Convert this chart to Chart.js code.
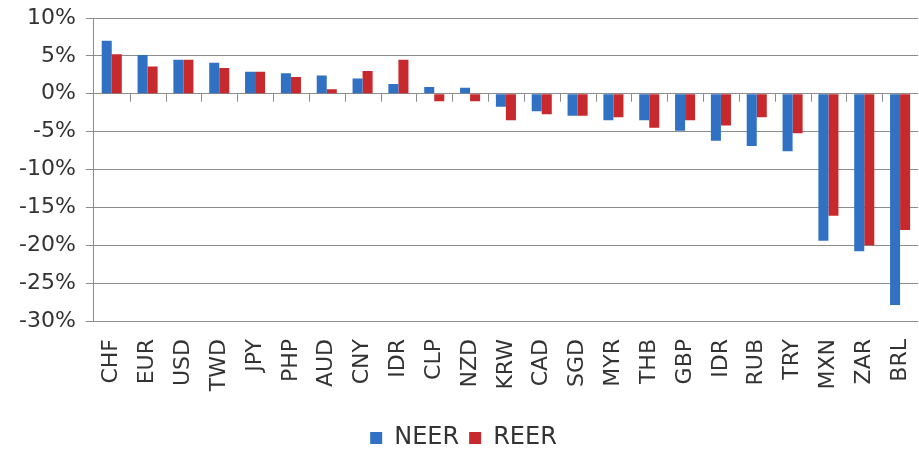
<!DOCTYPE html>
<html>
<head>
<meta charset="utf-8">
<script src="https://cdn.jsdelivr.net/npm/chart.js@4/dist/chart.umd.min.js"></script>
<style>
  html, body { margin: 0; padding: 0; background: #fff; }
  #wrap { width: 919px; height: 450px; }
</style>
</head>
<body>
<div id="wrap"><canvas id="rateChart" width="919" height="450"></canvas></div>
<script>
// Currencies and effective exchange rate changes (%)
const currencies = ['CHF', 'EUR', 'USD', 'TWD', 'JPY', 'PHP', 'AUD', 'CNY', 'IDR', 'CLP', 'NZD', 'KRW',
    'CAD', 'SGD', 'MYR', 'THB', 'GBP', 'IDR', 'RUB', 'TRY', 'MXN', 'ZAR', 'BRL'];
const neer = [7.0, 5.1, 4.5, 4.1, 2.9, 2.7, 2.4, 2.0, 1.3, 0.9, 0.8, -1.7,
    -2.3, -2.9, -3.5, -3.5, -4.9, -6.2, -6.9, -7.6, -19.4, -20.8, -27.9];
const reer = [5.2, 3.6, 4.5, 3.4, 2.9, 2.2, 0.6, 3.0, 4.5, -1.0, -1.0, -3.5,
    -2.7, -2.9, -3.1, -4.5, -3.5, -4.2, -3.1, -5.2, -16.1, -20.0, -18.0];
const yTicks = [10, 5, 0, -5, -10, -15, -20, -25, -30];

const FONT = 'DejaVu Sans';

// small tick marks along the zero line, between categories
const zeroTicks = {
    id: 'zeroTicks',
    afterDatasetsDraw(chart) {
        const x = chart.scales.x, y = chart.scales.y;
        const y0 = y.getPixelForValue(0);
        const ctx = chart.ctx;
        ctx.save();
        ctx.strokeStyle = '#8c8c8c';
        ctx.lineWidth = 1;
        ctx.beginPath();
        for (let i = 1; i < currencies.length; i++) {
            const px = Math.round((x.getPixelForValue(i - 1) + x.getPixelForValue(i)) / 2) + 0.5;
            ctx.moveTo(px, y0);
            ctx.lineTo(px, y0 + 8);
        }
        ctx.stroke();
        ctx.restore();
    }
};

const ctx = document.getElementById('rateChart').getContext('2d');
new Chart(ctx, {
    type: 'bar',
    data: {
        labels: currencies,
        datasets: [{
            label: 'NEER',
            data: neer,
            backgroundColor: '#3171c3'
        }, {
            label: 'REER',
            data: reer,
            backgroundColor: '#c8292c'
        }]
    },
    options: {
        responsive: false,
        animation: false,
        devicePixelRatio: 1,
        categoryPercentage: 0.56,
        barPercentage: 1.0,
        layout: { padding: { top: 18, left: 9, right: 1, bottom: -10 } },
        plugins: {
            tooltip: { enabled: false },
            legend: {
                position: 'bottom',
                labels: {
                    font: { family: FONT, size: 24 },
                    color: '#333',
                    boxWidth: 12,
                    boxHeight: 12,
                    padding: 10
                }
            }
        },
        scales: {
            x: {
                grid: { display: false },
                border: { display: false },
                ticks: {
                    font: { family: FONT, size: 22 },
                    color: '#333',
                    minRotation: 90,
                    maxRotation: 90,
                    autoSkip: false,
                    padding: 10
                },
                afterFit(scale) {
                    scale.height = 95;
                    scale.paddingLeft = 0;
                    scale.paddingRight = 0;
                }
            },
            y: {
                min: -30,
                max: 10,
                afterBuildTicks(scale) { scale.ticks = yTicks.map(v => ({ value: v })); },
                afterFit(scale) {
                    scale.paddingTop = 0;
                    scale.paddingBottom = 0;
                },
                grid: { color: '#8c8c8c', tickLength: 8, lineWidth: 1 },
                border: { color: '#8c8c8c' },
                ticks: {
                    font: { family: FONT, size: 22 },
                    color: '#333',
                    padding: 10,
                    callback: v => v + '%'
                }
            }
        }
    },
    plugins: [zeroTicks]
});
</script>
</body>
</html>
